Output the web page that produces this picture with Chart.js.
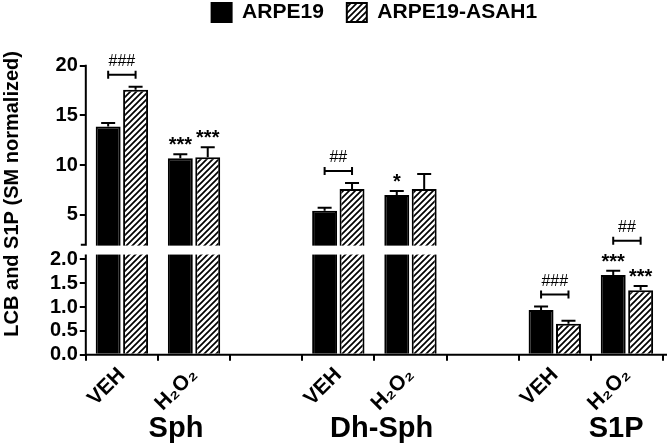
<!DOCTYPE html>
<html>
<head>
<meta charset="utf-8">
<script src="https://cdn.jsdelivr.net/npm/chart.js@4/dist/chart.umd.min.js"></script>
<style>
  body { margin: 0; background: #fff; }
</style>
</head>
<body>
<canvas id="chart" width="667" height="447"></canvas>
<script>
// data
const categories = ['VEH', 'H₂O₂', '', 'VEH', 'H₂O₂', '', 'VEH', 'H₂O₂'];
const groups = ['Sph', 'Dh-Sph', 'S1P'];
const groupAt = [0.75, 3.6, 6.85];   // category position of each group label

const arpe19 = [13.9, 10.7, null, 5.4, 7.0, null, 0.94, 1.67];
const arpe19Err = [0.35, 0.4, null, 0.3, 0.4, null, 0.07, 0.09];
const asah1 = [17.6, 10.8, null, 7.6, 7.6, null, 0.65, 1.35];
const asah1Err = [0.3, 1.0, null, 0.6, 1.5, null, 0.06, 0.09];

const starsArpe19 = ['', '***', '', '', '*', '', '', '***'];
const starsAsah1 = ['', '***', '', '', '', '', '', '***'];
const hashMarks = ['###', '', '', '##', '', '', '###', '##'];

const yTicks = [0, 0.5, 1, 1.5, 2, 5, 10, 15, 20];

const FONT = '"Liberation Sans", Arial, sans-serif';

// broken y axis: 0..2.1 at the bottom, 2..max above a small gap
const LOW_TOP = 2.1, UP_BASE = 2, GAP = 10, LOW_K = 48, UP_K = 10;

class BrokenScale extends Chart.LinearScale {
  unit() {
    const span = (this.max - UP_BASE) * UP_K + GAP + LOW_TOP * LOW_K;
    return (this.bottom - this.top) / span;
  }
  upperPixel(v) {
    return this.top + (this.max - v) * UP_K * this.unit();
  }
  getPixelForValue(v) {
    if (v <= LOW_TOP) return this.bottom - v * LOW_K * this.unit();
    return this.upperPixel(v);
  }
  getValueForPixel(p) {
    const u = this.unit();
    const lowTopPx = this.bottom - LOW_TOP * LOW_K * u;
    if (p >= lowTopPx) return (this.bottom - p) / (LOW_K * u);
    return this.max - (p - this.top) / (UP_K * u);
  }
}
BrokenScale.id = 'broken';
BrokenScale.defaults = Chart.LinearScale.defaults;
Chart.register(BrokenScale);

function hatch() {
  const s = 6;
  const c = document.createElement('canvas');
  c.width = c.height = s;
  const g = c.getContext('2d');
  g.fillStyle = '#fff';
  g.fillRect(0, 0, s, s);
  g.strokeStyle = '#000';
  g.lineWidth = 1.7;
  g.beginPath();
  g.moveTo(-1, s + 1); g.lineTo(s + 1, -1);
  g.moveTo(-1, 1); g.lineTo(1, -1);
  g.moveTo(s - 1, s + 1); g.lineTo(s + 1, s - 1);
  g.stroke();
  return g.createPattern(c, 'repeat');
}

const errors = [arpe19Err, asah1Err];
const stars = [starsArpe19, starsAsah1];

const annotate = {
  id: 'annotate',
  afterDatasetsDraw(chart) {
    const { ctx, chartArea, scales: { y } } = chart;
    ctx.save();
    ctx.strokeStyle = '#000';
    ctx.lineWidth = 2;
    // error bars (upper whisker only)
    chart.data.datasets.forEach((ds, d) => {
      chart.getDatasetMeta(d).data.forEach((bar, i) => {
        if (ds.data[i] == null) return;
        const top = y.getPixelForValue(ds.data[i] + errors[d][i]);
        ctx.beginPath();
        ctx.moveTo(bar.x, bar.y);
        ctx.lineTo(bar.x, top);
        ctx.moveTo(bar.x - 7, top);
        ctx.lineTo(bar.x + 7, top);
        ctx.stroke();
      });
    });
    // white band for the axis break
    const upBottom = y.upperPixel(UP_BASE) + 1;
    const lowTop = y.getPixelForValue(LOW_TOP);
    ctx.fillStyle = '#fff';
    ctx.fillRect(chartArea.left + 1, upBottom, chartArea.right - chartArea.left, lowTop - upBottom);
    ctx.restore();
  },
  afterDraw(chart) {
    const { ctx, chartArea, scales: { x, y } } = chart;
    ctx.save();
    ctx.strokeStyle = '#000';
    ctx.fillStyle = '#000';
    ctx.lineWidth = 2;
    // axis lines
    const upBottom = y.upperPixel(UP_BASE);
    const lowTop = y.getPixelForValue(LOW_TOP);
    const left = chartArea.left;
    ctx.beginPath();
    ctx.moveTo(left, y.getPixelForValue(20) - 1);
    ctx.lineTo(left, upBottom);
    ctx.moveTo(left - 5, upBottom);
    ctx.lineTo(left + 1, upBottom);
    ctx.moveTo(left, lowTop);
    ctx.lineTo(left, chartArea.bottom);
    ctx.moveTo(left - 1, chartArea.bottom);
    ctx.lineTo(chart.width, chartArea.bottom);
    ctx.stroke();

    // stars over bars
    const metas = [chart.getDatasetMeta(0), chart.getDatasetMeta(1)];
    const errTop = (d, i) => y.getPixelForValue(chart.data.datasets[d].data[i] + errors[d][i]);
    ctx.textAlign = 'center';
    ctx.textBaseline = 'alphabetic';
    ctx.font = 'bold 20px ' + FONT;
    for (let d = 0; d < 2; d++) {
      categories.forEach((c, i) => {
        if (!stars[d][i]) return;
        ctx.fillText(stars[d][i], metas[d].data[i].x, errTop(d, i) - 3);
      });
    }
    // brackets with hash marks
    ctx.font = '16px ' + FONT;
    hashMarks.forEach((h, i) => {
      if (!h) return;
      let topMost = Math.min(errTop(0, i), errTop(1, i));
      for (let d = 0; d < 2; d++) {
        if (stars[d][i]) topMost = Math.min(topMost, errTop(d, i) - 18);
      }
      const by = topMost - 12;
      const xa = metas[0].data[i].x, xb = metas[1].data[i].x;
      ctx.lineWidth = 2;
      ctx.beginPath();
      ctx.moveTo(xa, by); ctx.lineTo(xb, by);
      ctx.moveTo(xa, by - 4); ctx.lineTo(xa, by + 4);
      ctx.moveTo(xb, by - 4); ctx.lineTo(xb, by + 4);
      ctx.stroke();
      ctx.fillText(h, (xa + xb) / 2, by - 9);
    });
    // group names under the axis
    ctx.font = 'bold 29px ' + FONT;
    groups.forEach((g, k) => {
      ctx.fillText(g, x.getPixelForValue(groupAt[k]), 437);
    });
    ctx.restore();
  }
};

new Chart(document.getElementById('chart'), {
  type: 'bar',
  data: {
    labels: categories,
    datasets: [
      {
        label: 'ARPE19',
        data: arpe19,
        backgroundColor: '#000',
        borderColor: '#000',
        borderWidth: 2
      },
      {
        label: 'ARPE19-ASAH1',
        data: asah1,
        backgroundColor: hatch(),
        borderColor: '#000',
        borderWidth: 2
      }
    ]
  },
  options: {
    responsive: false,
    animation: false,
    categoryPercentage: 0.76,
    barPercentage: 0.91,
    layout: { padding: { top: -21, right: 4, bottom: 29, left: 0 } },
    plugins: {
      legend: {
        position: 'top',
        fullSize: false,
        labels: {
          color: '#000',
          boxWidth: 20,
          boxHeight: 19,
          padding: 23,
          font: { family: FONT, weight: 'bold', size: 21 }
        }
      },
      tooltip: { enabled: false }
    },
    scales: {
      x: {
        grid: { drawOnChartArea: false, drawTicks: true, tickLength: 6, color: '#000', lineWidth: 2 },
        border: { display: false },
        ticks: {
          autoSkip: false,
          minRotation: 45,
          maxRotation: 45,
          padding: 2,
          color: '#000',
          font: { family: FONT, weight: 'bold', size: 21 }
        }
      },
      y: {
        type: 'broken',
        min: 0,
        max: 23.3,
        afterBuildTicks: (scale) => { scale.ticks = yTicks.map(v => ({ value: v })); },
        grid: { drawOnChartArea: false, drawTicks: true, tickLength: 6, color: '#000', lineWidth: 2 },
        border: { display: false },
        ticks: {
          padding: 2,
          color: '#000',
          font: { family: FONT, weight: 'bold', size: 20 },
          callback: (v) => v <= 2 ? v.toFixed(1) : String(v)
        },
        title: {
          display: true,
          text: 'LCB and S1P (SM normalized)',
          color: '#000',
          font: { family: FONT, weight: 'bold', size: 20 },
          padding: { top: 0, bottom: 24 }
        }
      }
    }
  },
  plugins: [annotate]
});
</script>
</body>
</html>
